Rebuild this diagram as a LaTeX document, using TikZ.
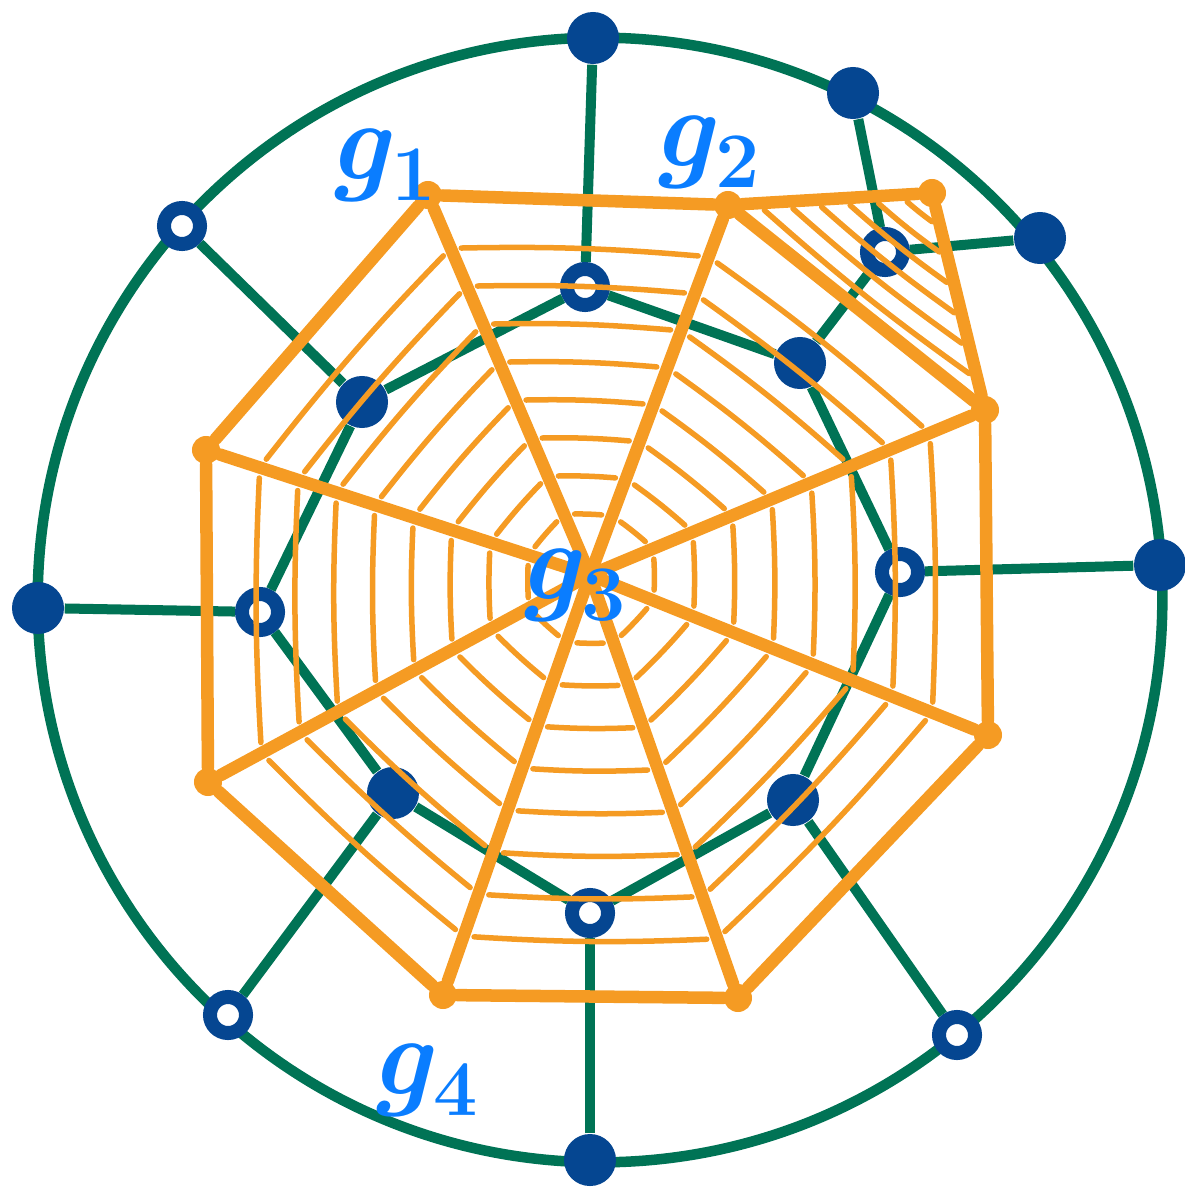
\documentclass[tikz,border=0pt]{standalone}
\usepackage{fontspec}
\usepackage{tikz}
\usetikzlibrary{calc}

\definecolor{webgreen}{RGB}{0,115,85}
\definecolor{dotblue}{RGB}{5,70,145}
\definecolor{weborange}{RGB}{245,155,35}
\definecolor{labelblue}{RGB}{10,125,255}

\newcommand{\glab}[1]{\textit{g}\textsubscript{#1}}

\begin{document}
\begin{tikzpicture}[
  x=0.01cm, y=-0.01cm,
  full/.style={circle, fill=dotblue, minimum size=5.2mm, inner sep=0pt},
  hollow/.style={circle, draw=dotblue, fill=white, line width=1.4mm, minimum size=3.6mm, inner sep=0pt},
  rim/.style={draw=webgreen, line width=1.05mm},
  link/.style={draw=webgreen, line width=1.0mm},
  vtx/.style={circle, fill=weborange, minimum size=2.8mm, inner sep=0pt},
  edge/.style={draw=weborange, line width=1.25mm, line cap=round},
  hatch/.style={draw=weborange, line width=0.55mm, line cap=round, shorten <=3pt, shorten >=3pt},
  glabel/.style={text=labelblue, font=\fontsize{32}{32}\selectfont\bfseries}
]
\useasboundingbox (0,0) rectangle (1185,1188);

% Outer ring
\draw[rim] (600,600) circle[radius=5.62cm];

% Nodes on the ring
\node[full]   (o1) at (593,38)   {};
\node[full]   (o2) at (853,93)   {};
\node[full]   (o3) at (1040,238) {};
\node[full]   (o4) at (1160,565) {};
\node[hollow] (o5) at (957,1035) {};
\node[full]   (o6) at (590,1160) {};
\node[hollow] (o7) at (228,1015) {};
\node[full]   (o8) at (38,608)   {};
\node[hollow] (o9) at (182,226)  {};

% Inner octagon nodes
\node[hollow] (i1) at (585,287) {};
\node[full]   (i2) at (800,363) {};
\node[hollow] (i3) at (900,572) {};
\node[full]   (i4) at (793,800) {};
\node[hollow] (i5) at (590,913) {};
\node[full]   (i6) at (393,793) {};
\node[hollow] (i7) at (260,612) {};
\node[full]   (i8) at (362,402) {};
\node[hollow] (x1) at (885,252) {};

% Green edges
\draw[link] (i1) -- (i2) -- (i3) -- (i4) -- (i5) -- (i6) -- (i7) -- (i8) -- (i1);
\draw[link] (o1) -- (i1);
\draw[link] (o2) -- (x1);
\draw[link] (x1) -- (o3);
\draw[link] (x1) -- (i2);
\draw[link] (o4) -- (i3);
\draw[link] (o5) -- (i4);
\draw[link] (o6) -- (i5);
\draw[link] (o7) -- (i6);
\draw[link] (o8) -- (i7);
\draw[link] (o9) -- (i8);

% Orange web
\coordinate (O) at (590,575);
\node[vtx] (A) at (428,195) {};
\node[vtx] (B) at (728,205) {};
\node[vtx] (C) at (932,193) {};
\node[vtx] (D) at (985,410) {};
\node[vtx] (E) at (988,735) {};
\node[vtx] (F) at (738,998) {};
\node[vtx] (G) at (443,995) {};
\node[vtx] (H) at (208,782) {};
\node[vtx] (I) at (206,450) {};

% hatching, parallel to each outer edge
\foreach \p/\q in {A/B,B/D,D/E,E/F,F/G,G/H,H/I,I/A}
  \foreach \t in {0.16,0.26,...,0.95}
    \draw[hatch] ($(O)!\t!(\p.center)$) to[bend left=3] ($(O)!\t!(\q.center)$);
\foreach \t in {0.14,0.28,...,0.9}
  \draw[hatch] ($(B.center)!\t!(C.center)$) to[bend right=3] ($(D.center)!\t!(C.center)$);

\draw[edge] (A) -- (B) -- (C) -- (D) -- (E) -- (F) -- (G) -- (H) -- (I) -- (A);
\draw[edge] (B) -- (D);
\foreach \v in {A,B,D,E,F,G,H,I}
  \draw[edge] (O) -- (\v);

% Labels
\node[glabel] (g1) at (383,165)  {\glab{1}};
\node[glabel] (g2) at (707,152)  {\glab{2}};
\node[glabel] (g3) at (573,585)  {\glab{3}};
\node[glabel] (g4) at (425,1080) {\glab{4}};
\end{tikzpicture}
\end{document}
